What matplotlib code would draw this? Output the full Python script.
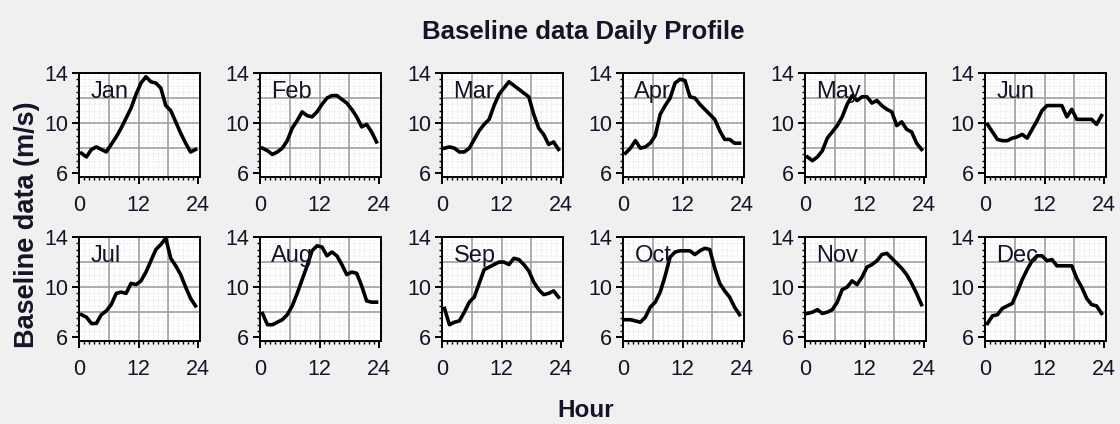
import numpy as np
import matplotlib
matplotlib.use("Agg")
import matplotlib.pyplot as plt
from matplotlib import font_manager
from matplotlib.ticker import MultipleLocator, FixedLocator

months = ["Jan", "Feb", "Mar", "Apr", "May", "Jun",
          "Jul", "Aug", "Sep", "Oct", "Nov", "Dec"]
hours = [h + 0.5 for h in range(24)]

jan = [7.6, 7.3, 7.9, 8.1, 7.9, 7.7, 8.3, 8.9, 9.6, 10.4, 11.2, 12.3,
       13.2, 13.7, 13.3, 13.2, 12.8, 11.4, 11.0, 10.1, 9.2, 8.4, 7.7, 7.9]
feb = [8.0, 7.8, 7.5, 7.7, 8.0, 8.6, 9.6, 10.2, 10.9, 10.6, 10.5, 10.9,
       11.5, 12.0, 12.2, 12.2, 11.9, 11.6, 11.1, 10.5, 9.7, 9.9, 9.3, 8.5]
mar = [8.0, 8.1, 8.0, 7.7, 7.7, 8.0, 8.7, 9.4, 9.9, 10.3, 11.4, 12.3,
       12.8, 13.3, 13.0, 12.7, 12.4, 12.1, 10.7, 9.6, 9.1, 8.3, 8.5, 7.9]
apr = [7.6, 8.0, 8.6, 8.0, 8.1, 8.4, 9.0, 10.7, 11.4, 12.0, 13.2, 13.5,
       13.4, 12.1, 12.0, 11.5, 11.1, 10.7, 10.3, 9.4, 8.7, 8.7, 8.4, 8.4]
may = [7.3, 7.0, 7.3, 7.8, 8.8, 9.3, 9.8, 10.5, 11.5, 12.2, 11.8, 12.1,
       12.1, 11.6, 11.8, 11.4, 11.1, 10.9, 9.8, 10.1, 9.5, 9.3, 8.4, 7.9]
jun = [9.9, 9.3, 8.7, 8.6, 8.6, 8.8, 8.9, 9.1, 8.8, 9.5, 10.2, 11.0,
       11.4, 11.4, 11.4, 11.4, 10.5, 11.1, 10.3, 10.3, 10.3, 10.3, 9.9, 10.6]
jul = [7.8, 7.6, 7.1, 7.1, 7.8, 8.1, 8.6, 9.5, 9.6, 9.5, 10.3, 10.2,
       10.5, 11.2, 12.1, 13.0, 13.4, 13.9, 12.3, 11.7, 11.0, 10.0, 9.1, 8.5]
aug = [7.9, 7.0, 7.0, 7.2, 7.4, 7.8, 8.5, 9.5, 10.6, 11.7, 12.9, 13.3,
       13.2, 12.5, 12.8, 12.5, 11.8, 11.0, 11.2, 11.1, 10.1, 8.9, 8.8, 8.8]
sep = [8.3, 7.0, 7.2, 7.3, 8.0, 8.8, 9.2, 10.3, 11.4, 11.6, 11.8, 12.0,
       12.0, 11.8, 12.3, 12.2, 11.8, 11.3, 10.4, 9.8, 9.4, 9.5, 9.7, 9.2]
oct_ = [7.4, 7.4, 7.3, 7.2, 7.6, 8.4, 8.8, 9.6, 10.9, 12.4, 12.8, 12.9,
        12.9, 12.9, 12.6, 12.9, 13.1, 13.0, 11.5, 10.3, 9.7, 9.2, 8.4, 7.8]
nov = [7.9, 8.0, 8.2, 7.9, 8.0, 8.2, 8.8, 9.8, 10.0, 10.5, 10.2, 10.8,
       11.6, 11.8, 12.1, 12.6, 12.7, 12.3, 11.9, 11.5, 11.0, 10.3, 9.5, 8.6]
dec = [7.1, 7.7, 7.8, 8.3, 8.5, 8.7, 9.6, 10.6, 11.4, 12.1, 12.5, 12.5,
       12.1, 12.2, 11.7, 11.7, 11.7, 11.7, 10.7, 10.0, 9.1, 8.6, 8.5, 7.9]
profiles = [jan, feb, mar, apr, may, jun, jul, aug, sep, oct_, nov, dec]

# narrow font if installed, plain Liberation Sans otherwise
names = {f.name for f in font_manager.fontManager.ttflist}
narrow = "Liberation Sans Narrow" if "Liberation Sans Narrow" in names else "Liberation Sans"
txt = "#141428"

W, H = 1120, 424
fig = plt.figure(figsize=(W / 100, H / 100), dpi=100, facecolor="#f0f0f0")

lefts = [79, 260, 442, 623, 805, 985]
tops = [73, 237]
aw, ah = 121, 104

for i, (name, vals) in enumerate(zip(months, profiles)):
    r, c = divmod(i, 6)
    ax = fig.add_axes([lefts[c] / W, 1 - (tops[r] + ah) / H, aw / W, ah / H])
    ax.set_facecolor("white")
    ax.set_xlim(0, 24.4)
    ax.set_ylim(5.7, 14)

    ax.xaxis.set_major_locator(FixedLocator([0, 12, 24]))
    ax.xaxis.set_minor_locator(MultipleLocator(1))
    ax.yaxis.set_major_locator(FixedLocator([6, 10, 14]))
    ax.yaxis.set_minor_locator(MultipleLocator(0.5))

    ax.grid(which="minor", color="#e4e4e4", lw=0.8, ls=":")
    for gx in (6, 12, 18):
        ax.axvline(gx, color="#a0a0a0", lw=1.2, zorder=1)
    for gy in (8, 10, 12):
        ax.axhline(gy, color="#a0a0a0", lw=1.2, zorder=1)
    ax.set_axisbelow(True)

    ax.plot(hours, vals, color="black", lw=2.6, zorder=3)
    ax.text(2.3, 12.5, name, fontsize=17, family=narrow, color=txt,
            va="center", ha="left", zorder=4)

    for s in ax.spines.values():
        s.set_linewidth(1.4)
        s.set_color("black")
    ax.tick_params(which="major", direction="out", length=5, width=1.4,
                   labelsize=15.5, colors="black", labelcolor=txt)
    ax.tick_params(which="minor", direction="out", length=2.5, width=1.0)
    ax.tick_params(axis="x", which="major", pad=8)
    ax.tick_params(axis="y", which="major", pad=3)
    for lab in ax.get_xticklabels() + ax.get_yticklabels():
        lab.set_family(narrow)

fig.text(0.521, 0.925, "Baseline data Daily Profile", fontsize=18.5,
         fontweight="bold", family=narrow, color=txt, ha="center", va="center")
fig.text(0.523, 0.033, "Hour", fontsize=17.5, fontweight="bold",
         family=narrow, color=txt, ha="center", va="center")
fig.text(0.024, 0.47, "Baseline data (m/s)", fontsize=19.5, fontweight="bold",
         family=narrow, color=txt, ha="center", va="center", rotation=90)

plt.savefig("out.png", dpi=100, facecolor=fig.get_facecolor())
